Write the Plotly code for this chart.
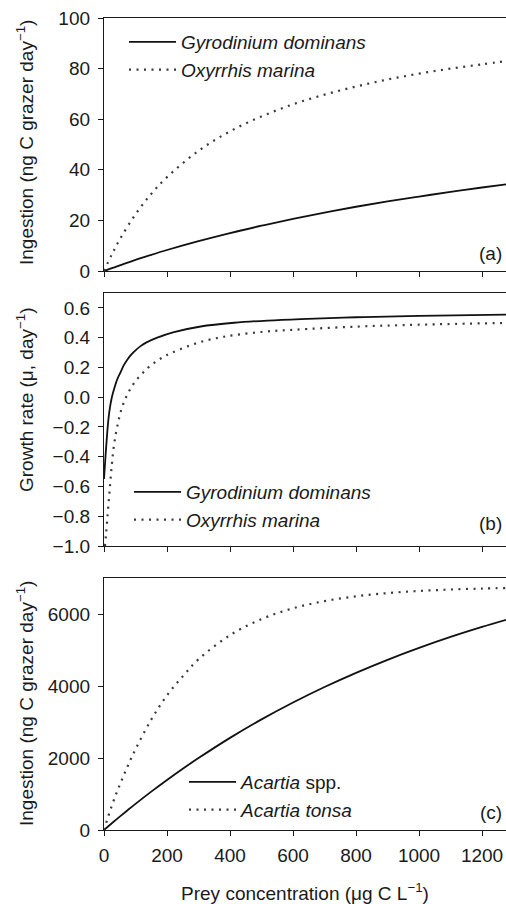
import plotly.graph_objects as go

# ---------------- data ----------------
# (a) ingestion by dinoflagellates
xa = [0, 25, 50, 100, 150, 200, 300, 400, 500, 600, 700, 800, 900, 1000, 1100, 1200, 1280]
gyro_ing = [0, 1.1, 2.2, 4.4, 6.4, 8.3, 11.8, 15.0, 17.9, 20.6, 23.1, 25.4, 27.5, 29.4, 31.3, 33.0, 34.3]
oxy_ing = [0, 6.6, 12.5, 22.4, 30.5, 37.1, 47.5, 55.2, 61.1, 65.9, 69.7, 72.9, 75.7, 78.0, 80.0, 81.7, 83.0]

# (b) growth rate
xb_gyro = [0, 5, 10, 15, 20, 25, 32, 42, 52, 63, 75, 85, 100, 116, 135, 169, 222, 307, 413, 519, 624,
           800, 1000, 1280]
gyro_mu = [-0.55, -0.39, -0.245, -0.13, -0.055, 0.0, 0.055, 0.12, 0.165, 0.215, 0.255, 0.283, 0.315,
           0.343, 0.368, 0.40, 0.437, 0.475, 0.50, 0.515, 0.525, 0.537, 0.546, 0.555]
xb_oxy = [3, 6, 10, 15, 20, 25, 30, 38, 47, 57, 70, 85, 101, 122, 143, 169, 193, 217, 267, 317, 365,
          413, 508, 603, 800, 1000, 1280]
oxy_mu = [-1.0, -0.93, -0.83, -0.70, -0.57, -0.45, -0.35, -0.24, -0.15, -0.07, 0.0, 0.06, 0.11, 0.16,
          0.204, 0.245, 0.276, 0.30, 0.343, 0.377, 0.40, 0.417, 0.44, 0.453, 0.474, 0.487, 0.499]

# (c) ingestion by copepods
xc = [0, 25, 50, 75, 100, 150, 200, 250, 300, 400, 500, 600, 700, 800, 900, 1000, 1100, 1200, 1280]
acartia_spp = [0, 187, 371, 550, 726, 1066, 1390, 1702, 1998, 2559, 3072, 3541, 3972, 4366, 4728,
               5059, 5363, 5641, 5847]
acartia_tonsa = [0, 680, 1250, 1770, 2242, 3067, 3741, 4268, 4742, 5411, 5859, 6158, 6358, 6491, 6580,
                 6640, 6680, 6706, 6722]

x_ticks = [0, 200, 400, 600, 800, 1000, 1200]
ya_ticks = [0, 20, 40, 60, 80, 100]
yb_ticks = [-1.0, -0.8, -0.6, -0.4, -0.2, 0.0, 0.2, 0.4, 0.6]
yc_ticks = [0, 2000, 4000, 6000]

# ---------------- styling ----------------
W, H = 506, 904
FONT = "Liberation Sans, Arial, Helvetica, sans-serif"
FS = 19
INK = "#1a1a1a"
SOLID = dict(color="#111111", width=1.8)
DOTTED = dict(color="#3a3a3a", width=2.2, dash="2px,5.5px")

def pdom(top_px, bot_px):
    return [1 - bot_px / H, 1 - top_px / H]

fig = go.Figure()

fig.add_trace(go.Scatter(x=xa, y=gyro_ing, mode="lines", line=dict(**SOLID, shape="spline"),
                         name="<i>Gyrodinium dominans</i>", xaxis="x", yaxis="y", legend="legend"))
fig.add_trace(go.Scatter(x=xa, y=oxy_ing, mode="lines", line=dict(**DOTTED, shape="spline"),
                         name="<i>Oxyrrhis marina</i>", xaxis="x", yaxis="y", legend="legend"))

fig.add_trace(go.Scatter(x=xb_gyro, y=gyro_mu, mode="lines", line=dict(**SOLID, shape="spline"),
                         name="<i>Gyrodinium dominans</i>", xaxis="x2", yaxis="y2", legend="legend2"))
fig.add_trace(go.Scatter(x=xb_oxy, y=oxy_mu, mode="lines", line=dict(**DOTTED, shape="spline"),
                         name="<i>Oxyrrhis marina</i>", xaxis="x2", yaxis="y2", legend="legend2"))

fig.add_trace(go.Scatter(x=xc, y=acartia_spp, mode="lines", line=dict(**SOLID, shape="spline"),
                         name="<i>Acartia</i> spp.", xaxis="x3", yaxis="y3", legend="legend3"))
fig.add_trace(go.Scatter(x=xc, y=acartia_tonsa, mode="lines", line=dict(**DOTTED, shape="spline"),
                         name="<i>Acartia tonsa</i>", xaxis="x3", yaxis="y3", legend="legend3"))

xdom = [104 / W, 1.0]
common_x = dict(domain=xdom, range=[0, 1276], tickvals=x_ticks, ticks="outside", ticklen=5,
                tickwidth=1.3, tickcolor=INK, showline=True, linecolor=INK, linewidth=1.3,
                mirror=True, showgrid=False, zeroline=False, automargin=False,
                tickfont=dict(family=FONT, size=FS, color=INK))
common_y = dict(ticks="outside", ticklen=5, tickwidth=1.3, tickcolor=INK, showline=True,
                linecolor=INK, linewidth=1.3, mirror=False, showgrid=False, zeroline=False,
                automargin=False, ticklabelstandoff=4, tickfont=dict(family=FONT, size=FS, color=INK))

leg_common = dict(bgcolor="rgba(0,0,0,0)", borderwidth=0, xanchor="left", yanchor="top",
                  font=dict(family=FONT, size=FS, color=INK), itemwidth=47, tracegroupgap=0)

fig.update_layout(
    width=W, height=H,
    margin=dict(l=0, r=0, t=0, b=0),
    paper_bgcolor="white", plot_bgcolor="white",
    font=dict(family=FONT, size=FS, color=INK),
    xaxis=dict(common_x, anchor="y", showticklabels=False),
    yaxis=dict(common_y, domain=pdom(18, 271), range=[0, 100], tickvals=ya_ticks, anchor="x"),
    xaxis2=dict(common_x, anchor="y2", showticklabels=False),
    yaxis2=dict(common_y, domain=pdom(293, 546), range=[-1.0, 0.7], tickvals=yb_ticks,
                tickformat=".1f", anchor="x2"),
    xaxis3=dict(common_x, anchor="y3", showticklabels=True, ticklabelstandoff=3,
                title=dict(text="Prey concentration (μg C L<sup>−1</sup>)", standoff=24,
                           font=dict(family=FONT, size=FS, color=INK))),
    yaxis3=dict(common_y, domain=pdom(578, 830), range=[0, 7000], tickvals=yc_ticks, anchor="x3"),
    legend=dict(leg_common, x=124 / W, y=1 - 23 / H),
    legend2=dict(leg_common, x=129 / W, y=1 - 473 / H),
    legend3=dict(leg_common, x=184 / W, y=1 - 763 / H),
    showlegend=True,
)

ytitles = [
    ("Ingestion (ng C grazer day<sup>−1</sup>)", 143),
    ("Growth rate (μ, day<sup>−1</sup>)", 400),
    ("Ingestion (ng C grazer day<sup>−1</sup>)", 704),
]
for txt, yc in ytitles:
    fig.add_annotation(text=txt, xref="paper", yref="paper", x=25 / W, y=1 - yc / H,
                       textangle=-90, showarrow=False, xanchor="center", yanchor="middle",
                       font=dict(family=FONT, size=FS, color=INK))

for lab, yc in [("(a)", 253), ("(b)", 523), ("(c)", 812)]:
    fig.add_annotation(text=lab, xref="paper", yref="paper", x=504 / W, y=1 - yc / H,
                       showarrow=False, xanchor="right", yanchor="middle",
                       font=dict(family=FONT, size=FS, color=INK))

fig.write_html("out.html", config={"displayModeBar": False},
               post_script="document.body.style.margin='0';")
